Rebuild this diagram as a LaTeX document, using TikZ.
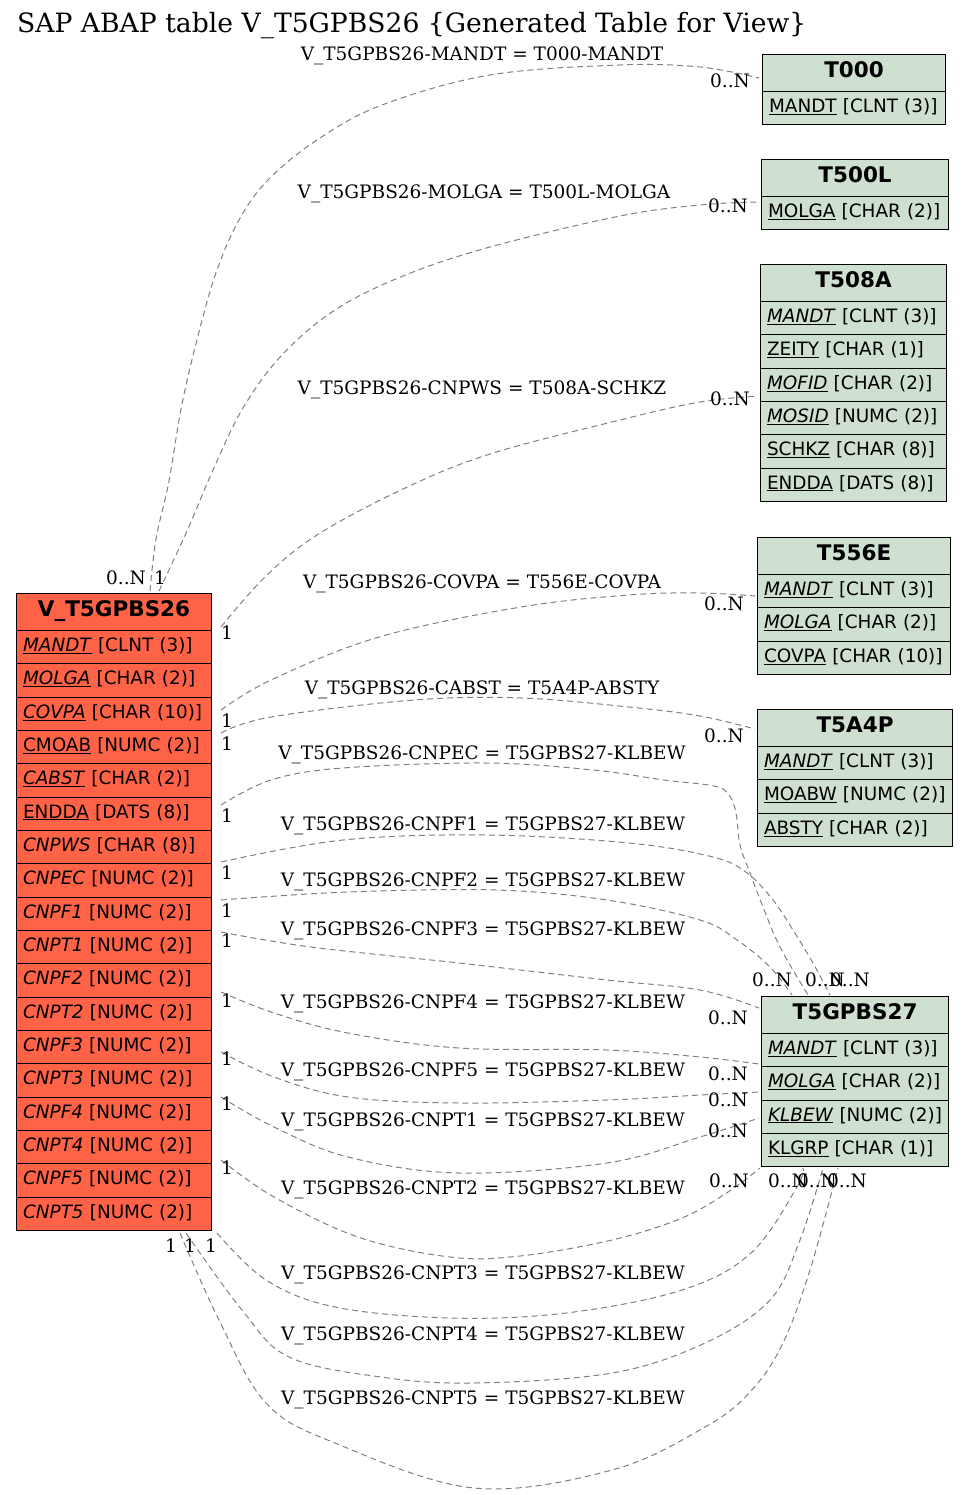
\documentclass[tikz,border=0pt]{standalone}
\usepackage{fontspec}
\setmainfont{DejaVu Serif}
\newfontfamily\tsans{DejaVu Sans}
\definecolor{redfill}{HTML}{FF6347}
\definecolor{grnfill}{HTML}{D0E0D0}
\definecolor{edgecol}{HTML}{808080}
\newcommand\ki[1]{\underline{\textit{#1}}}
\newcommand\ku[1]{\underline{#1}}
\tikzset{
  rel/.style={draw=edgecol, line width=1pt, dash pattern=on 6pt off 4pt},
  hdr/.style={draw=black, line width=1.1pt, anchor=north west, inner sep=0pt,
    font=\tsans\bfseries\fontsize{21.5}{24}\selectfont, text height=15.7pt, text depth=6pt},
  fld/.style={draw=black, line width=1.1pt, anchor=north west, inner xsep=6.5pt, inner ysep=0pt,
    align=left, font=\tsans\fontsize{18.4}{22}\selectfont, text height=13.5pt, text depth=5pt},
  lbl/.style={font=\fontsize{18.5}{22}\selectfont, inner sep=0pt, yshift=-3pt},
  card/.style={font=\fontsize{18.5}{22}\selectfont, inner sep=0pt, yshift=-1pt},
}
\newcommand\saptable[7]{%
  \node[hdr, fill=#5, minimum width=#4pt, minimum height=37pt] (#1) at (#2,#3) {#6};
  \pgfmathsetmacro\tw{#4-13}
  \foreach \r [count=\i] in {#7} {
    \node[fld, fill=#5, text width=\tw pt, minimum height=33.33pt] (#1-\i) at ({#2},{#3+37+(\i-1)*33.33}) {\mbox{\r}};
  }
}
\begin{document}
\begin{tikzpicture}[x=1pt,y=-1pt]
\useasboundingbox (0,0) rectangle (968,1495);
\fill[white] (0,0) rectangle (968,1495);

\node[font=\fontsize{26.6}{30}\selectfont, anchor=base west, inner sep=0pt] (title) at (17,32.5)
  {SAP ABAP table V\_T5GPBS26 \{Generated Table for View\}};

% ---------- edges ----------
\draw[rel] plot[smooth, tension=0.6] coordinates {(150,591) (156,539) (169,481) (182,404) (200,328) (217,270) (239,220) (268,180) (317,140) (382,105) (490,75) (620,65) (700,67) (759,78)};
\draw[rel] plot[smooth, tension=0.6] coordinates {(159,591) (187,531) (213,470) (243,408) (282,355) (335,310) (403,276) (490,247) (620,216) (700,205) (758,202)};
\draw[rel] plot[smooth, tension=0.6] coordinates {(221,627) (265,577) (317,535) (403,489) (490,454) (620,420) (700,402) (758,396)};
\draw[rel] plot[smooth, tension=0.6] coordinates {(221,710) (271,680) (379,637) (521,607) (629,595) (700,593) (755,596)};
\draw[rel] plot[smooth, tension=0.6] coordinates {(221,733) (271,717) (414,700) (521,698) (629,707) (700,716) (755,729)};
\draw[rel] plot[smooth, tension=0.6] coordinates {(221,805) (271,780) (343,768) (486,763) (593,770) (664,780) (714,786) (729,795) (736,813) (740,845) (750,873) (763,907) (780,947) (808,995)};
\draw[rel] plot[smooth, tension=0.6] coordinates {(221,862) (343,840) (486,835) (629,843) (713,857) (747,873) (773,900) (793,930) (813,963) (830,995)};
\draw[rel] plot[smooth, tension=0.6] coordinates {(221,900) (348,892) (496,890) (607,900) (700,920) (737,940) (770,967) (792,995)};
\draw[rel] plot[smooth, tension=0.6] coordinates {(221,932) (311,947) (459,963) (607,980) (700,990) (759,1008)};
\draw[rel] plot[smooth, tension=0.6] coordinates {(221,992) (274,1013) (348,1033) (459,1048) (607,1050) (700,1057) (759,1064)};
\draw[rel] plot[smooth, tension=0.6] coordinates {(221,1052) (274,1077) (348,1097) (459,1103) (607,1100) (700,1095) (759,1092)};
\draw[rel] plot[smooth, tension=0.6] coordinates {(221,1097) (274,1127) (348,1157) (459,1173) (607,1163) (700,1137) (759,1118)};
\draw[rel] plot[smooth, tension=0.6] coordinates {(221,1160) (274,1197) (358,1237) (450,1257) (520,1256) (612,1240) (682,1218) (728,1192) (760,1168)};
\draw[rel] plot[smooth, tension=0.6] coordinates {(217,1233) (266,1280) (335,1307) (450,1318) (566,1313) (682,1290) (751,1253) (797,1187) (803,1168)};
\draw[rel] plot[smooth, tension=0.6] coordinates {(186,1233) (242,1310) (289,1357) (381,1377) (474,1383) (612,1373) (705,1343) (770,1300) (800,1240) (823,1168)};
\draw[rel] plot[smooth, tension=0.6] coordinates {(180,1233) (219,1320) (266,1403) (335,1443) (474,1488) (612,1470) (705,1427) (750,1392) (782,1345) (810,1270) (838,1168)};

% ---------- edge labels ----------
\node[lbl] (l1) at (482,53) {V\_T5GPBS26-MANDT = T000-MANDT};
\node[lbl] (l2) at (484,191) {V\_T5GPBS26-MOLGA = T500L-MOLGA};
\node[lbl] (l3) at (482,387) {V\_T5GPBS26-CNPWS = T508A-SCHKZ};
\node[lbl] (l4) at (482,581) {V\_T5GPBS26-COVPA = T556E-COVPA};
\node[lbl] (l5) at (482,687) {V\_T5GPBS26-CABST = T5A4P-ABSTY};
\node[lbl] (l6) at (482,752) {V\_T5GPBS26-CNPEC = T5GPBS27-KLBEW};
\node[lbl] (l7) at (483,823) {V\_T5GPBS26-CNPF1 = T5GPBS27-KLBEW};
\node[lbl] (l8) at (483,879) {V\_T5GPBS26-CNPF2 = T5GPBS27-KLBEW};
\node[lbl] (l9) at (483,928) {V\_T5GPBS26-CNPF3 = T5GPBS27-KLBEW};
\node[lbl] (l10) at (483,1001) {V\_T5GPBS26-CNPF4 = T5GPBS27-KLBEW};
\node[lbl] (l11) at (483,1069) {V\_T5GPBS26-CNPF5 = T5GPBS27-KLBEW};
\node[lbl] (l12) at (483,1119) {V\_T5GPBS26-CNPT1 = T5GPBS27-KLBEW};
\node[lbl] (l13) at (483,1187) {V\_T5GPBS26-CNPT2 = T5GPBS27-KLBEW};
\node[lbl] (l14) at (483,1272) {V\_T5GPBS26-CNPT3 = T5GPBS27-KLBEW};
\node[lbl] (l15) at (483,1333) {V\_T5GPBS26-CNPT4 = T5GPBS27-KLBEW};
\node[lbl] (l16) at (483,1397) {V\_T5GPBS26-CNPT5 = T5GPBS27-KLBEW};

% ---------- cardinalities ----------
\node[card] (c1) at (126,577) {0..N};
\node[card] (c2) at (160,577) {1};
\foreach \yy [count=\k] in {632,720,743,815,872,910,940,1000,1058,1103,1167}
  \node[card] (r\k) at (227,\yy) {1};
\node[card] (b1) at (171,1245) {1};
\node[card] (b2) at (190,1245) {1};
\node[card] (b3) at (211,1245) {1};
\node[card] (n1) at (730,80) {0..N};
\node[card] (n2) at (728,205) {0..N};
\node[card] (n3) at (730,398) {0..N};
\node[card] (n4) at (724,603) {0..N};
\node[card] (n5) at (724,735) {0..N};
\node[card] (n6) at (772,979) {0..N};
\node[card] (n7) at (825,979) {0..N};
\node[card] (n8) at (850,979) {0..N};
\node[card] (n9) at (728,1017) {0..N};
\node[card] (n10) at (728,1073) {0..N};
\node[card] (n11) at (728,1099) {0..N};
\node[card] (n12) at (728,1130) {0..N};
\node[card] (n13) at (729,1180) {0..N};
\node[card] (n14) at (788,1180) {0..N};
\node[card] (n15) at (817,1180) {0..N};
\node[card] (n16) at (847,1180) {0..N};

% ---------- tables ----------
\saptable{vt}{16}{593}{195}{redfill}{V\_T5GPBS26}{%
  {\ki{MANDT} [CLNT (3)]},{\ki{MOLGA} [CHAR (2)]},{\ki{COVPA} [CHAR (10)]},{\ku{CMOAB} [NUMC (2)]},
  {\ki{CABST} [CHAR (2)]},{\ku{ENDDA} [DATS (8)]},{\textit{CNPWS} [CHAR (8)]},{\textit{CNPEC} [NUMC (2)]},
  {\textit{CNPF1} [NUMC (2)]},{\textit{CNPT1} [NUMC (2)]},{\textit{CNPF2} [NUMC (2)]},{\textit{CNPT2} [NUMC (2)]},
  {\textit{CNPF3} [NUMC (2)]},{\textit{CNPT3} [NUMC (2)]},{\textit{CNPF4} [NUMC (2)]},{\textit{CNPT4} [NUMC (2)]},
  {\textit{CNPF5} [NUMC (2)]},{\textit{CNPT5} [NUMC (2)]}}
\saptable{t000}{762}{54}{183}{grnfill}{T000}{{\ku{MANDT} [CLNT (3)]}}
\saptable{t500l}{761}{159}{187}{grnfill}{T500L}{{\ku{MOLGA} [CHAR (2)]}}
\saptable{t508a}{760}{264}{186}{grnfill}{T508A}{%
  {\ki{MANDT} [CLNT (3)]},{\ku{ZEITY} [CHAR (1)]},{\ki{MOFID} [CHAR (2)]},{\ki{MOSID} [NUMC (2)]},
  {\ku{SCHKZ} [CHAR (8)]},{\ku{ENDDA} [DATS (8)]}}
\saptable{t556e}{757}{537}{193}{grnfill}{T556E}{%
  {\ki{MANDT} [CLNT (3)]},{\ki{MOLGA} [CHAR (2)]},{\ku{COVPA} [CHAR (10)]}}
\saptable{t5a4p}{757}{709}{195}{grnfill}{T5A4P}{%
  {\ki{MANDT} [CLNT (3)]},{\ku{MOABW} [NUMC (2)]},{\ku{ABSTY} [CHAR (2)]}}
\saptable{t5g}{761}{996}{187}{grnfill}{T5GPBS27}{%
  {\ki{MANDT} [CLNT (3)]},{\ki{MOLGA} [CHAR (2)]},{\ki{KLBEW} [NUMC (2)]},{\ku{KLGRP} [CHAR (1)]}}
\end{tikzpicture}
\end{document}
